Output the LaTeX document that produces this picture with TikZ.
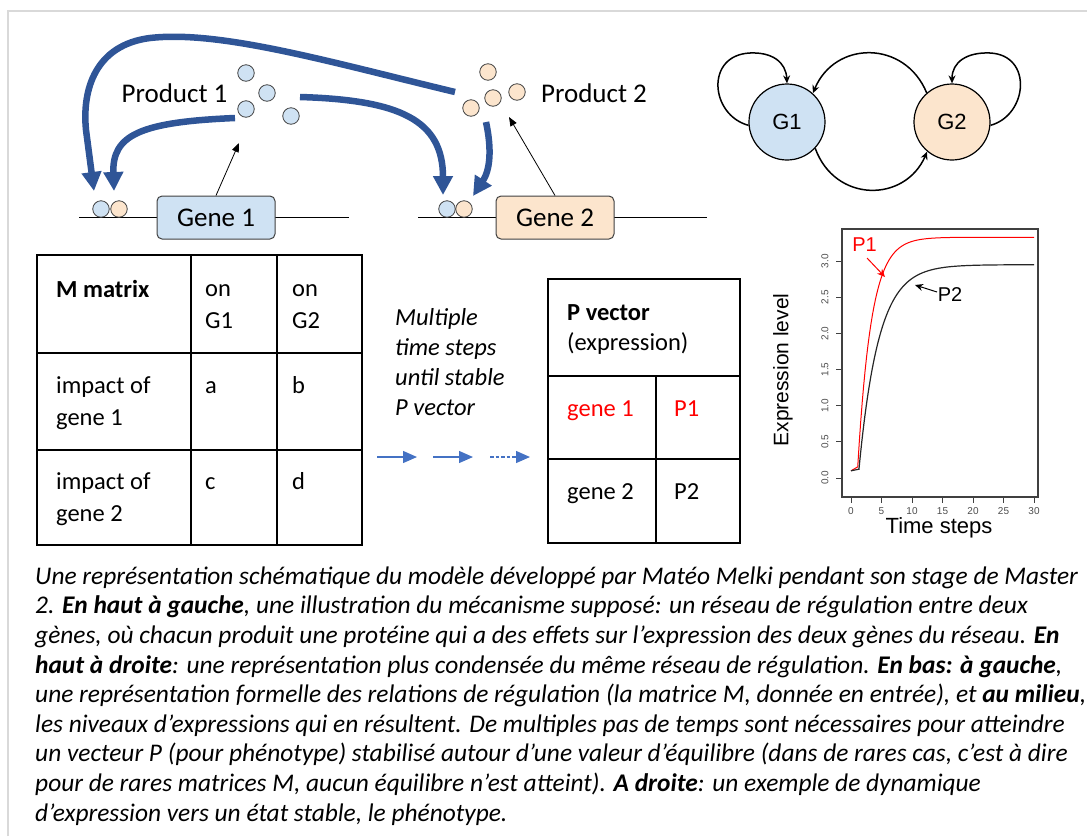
\documentclass[tikz,border=0pt]{standalone}
\usepackage{fontspec}
\setmainfont{Carlito}
\newfontfamily\arial{Liberation Sans}
\usetikzlibrary{arrows.meta}
\definecolor{geneblue}{RGB}{207,226,243}
\definecolor{geneorange}{RGB}{252,229,205}
\definecolor{regblue}{RGB}{47,85,151}
\definecolor{stepblue}{RGB}{68,114,196}
\definecolor{framegrey}{RGB}{217,217,217}
\begin{document}
\begin{tikzpicture}[x=1pt,y=-1pt,
    genebox/.style={draw=black!75,rounded corners=5pt,line width=1pt,minimum width=118pt,minimum height=43pt,
      text height=17pt,text depth=0pt,inner sep=0pt,font=\fontsize{27}{32}\selectfont},
    prot/.style={circle,draw=black!75,line width=0.8pt,minimum size=16.5pt,inner sep=0pt},
    reg/.style={regblue,line width=6.5pt,-{Triangle[length=19pt,width=19pt]}},
    gcirc/.style={circle,draw=black,line width=1.2pt,minimum size=76pt,inner sep=0pt,font=\arial\fontsize{22}{26}\selectfont},
    loop/.style={line width=1.5pt,-{Stealth[length=8pt,width=7pt]}},
    cell/.style={anchor=base west,align=left,inner sep=0pt,font=\fontsize{24.5}{32}\selectfont},
    stepline/.style={stepblue,line width=1.3pt,-{Triangle[length=14pt,width=12pt]}},
    tick/.style={font=\arial\fontsize{10}{12}\selectfont,text=black!70,inner sep=0pt}]
  \useasboundingbox (0,0) rectangle (1087,836);
  \draw[framegrey,line width=2pt] (8,836) -- (8,11) -- (1087,11);

  %% gene 1
  \draw[line width=0.8pt] (79,217) -- (349,217);
  \node[genebox,fill=geneblue] (gene1) at (216,217.5) {Gene 1};
  \node[prot,fill=geneblue] (b1a) at (101,209) {};
  \node[prot,fill=geneorange] (b1b) at (119,209) {};
  \foreach \i/\x/\y in {1/246/73,2/267/93,3/246/109,4/291/116}
    \node[prot,fill=geneblue] (pa\i) at (\x,\y) {};
  \node[anchor=base,font=\fontsize{27}{32}\selectfont] (prod1) at (174.5,102) {Product 1};
  \coordinate (p1in) at (239,143);
  \draw[line width=0.8pt,-{Triangle[length=9pt,width=7pt]}] (gene1.north) -- (p1in);

  %% gene 2
  \draw[line width=0.8pt] (418,217) -- (707,217);
  \node[genebox,fill=geneorange] (gene2) at (555,217.5) {Gene 2};
  \node[prot,fill=geneblue] (b2a) at (447,209) {};
  \node[prot,fill=geneorange] (b2b) at (464,209) {};
  \foreach \i/\x/\y in {1/488/72,2/493/98,3/517/92,4/471/108}
    \node[prot,fill=geneorange] (pb\i) at (\x,\y) {};
  \node[anchor=base,font=\fontsize{27}{32}\selectfont] (prod2) at (594,102) {Product 2};
  \coordinate (p2in) at (509,117);
  \draw[line width=0.8pt,-{Triangle[length=9pt,width=7pt]}] (gene2.north) -- (p2in);

  %% regulation arrows
  \draw[reg] (455,92) .. controls (330,62) and (220,30) .. (150,38) .. controls (95,45) and (82,90) .. (86,130) -- (94,191);
  \draw[reg] (235,118) .. controls (140,122) and (112,135) .. (114,191);
  \draw[reg] (300,97) .. controls (400,100) and (443,120) .. (443,195);
  \draw[reg] (486,122) .. controls (492,150) and (490,170) .. (473,196);

  %% condensed network
  \node[gcirc,fill=geneblue] (g1) at (787,122) {G1};
  \node[gcirc,fill=geneorange] (g2) at (952,122) {G2};
  \draw[loop] (g1.185) .. controls (710,115) and (705,55) .. (750,53) .. controls (772,52) and (786,62) .. (g1.north);
  \draw[loop] (g2.-5) .. controls (1028,115) and (1033,55) .. (990,53) .. controls (967,52) and (952,62) .. (g2.north);
  \draw[loop] (g2.131) .. controls (905,40) and (835,40) .. (g1.48);
  \draw[loop] (g1.-43) .. controls (835,203) and (905,203) .. (g2.-130);

  %% M matrix
  \draw[line width=2pt] (37,255) rectangle (362,545);
  \draw[line width=2pt] (191,255) -- (191,545) (277,255) -- (277,545) (37,353) -- (362,353) (37,450) -- (362,450);
  \node[cell,font=\bfseries\fontsize{24.5}{32}\selectfont] (mhead) at (56,297) {M matrix};
  \node[cell] (mong1) at (205,328) {on\\G1};
  \node[cell] (mong2) at (292,328) {on\\G2};
  \node[cell] (mrow1) at (56,425) {impact of\\gene 1};
  \node[cell] (ma) at (205,393) {a};
  \node[cell] (mb) at (292,393) {b};
  \node[cell] (mrow2) at (56,521) {impact of\\gene 2};
  \node[cell] (mc) at (205,489) {c};
  \node[cell] (md) at (292,489) {d};

  %% time steps
  \node[cell,font=\itshape\fontsize{24.5}{30}\selectfont] (steps) at (395,415) {Multiple\\time steps\\until stable\\P vector};
  \coordinate (s0) at (377,457); \coordinate (s1) at (417,457);
  \coordinate (s2) at (433,457); \coordinate (s3) at (473,457);
  \coordinate (s4) at (490,457); \coordinate (s5) at (530,457);
  \draw[stepline] (s0) -- (s1);
  \draw[stepline] (s2) -- (s3);
  \draw[stepline,dash pattern=on 3.5pt off 2pt] (s4) -- (s5);

  %% P vector
  \draw[line width=2pt] (548,279) rectangle (740,543);
  \draw[line width=2pt] (548,376) -- (740,376) (548,459) -- (740,459) (656,376) -- (656,543);
  \node[cell,font=\fontsize{24.5}{30}\selectfont] (phead) at (567,350) {\textbf{P vector}\\(expression)};
  \node[cell,text=red] (pg1) at (567,416) {gene 1};
  \node[cell,text=red] (pv1) at (674,416) {P1};
  \node[cell] (pg2) at (567,499) {gene 2};
  \node[cell] (pv2) at (674,499) {P2};

  %% expression plot
  \draw[black!75,line width=1.2pt] (842,229) rectangle (1038,497);
  \foreach \t in {0,5,...,30} {
    \draw[black!75,line width=0.8pt] ({851+6.1*\t},497) -- ({851+6.1*\t},503);
    \node[tick] at ({851+6.1*\t},511) {\t};
  }
  \foreach \v/\lab in {0/0.0,0.5/0.5,1/1.0,1.5/1.5,2/2.0,2.5/2.5,3/3.0} {
    \draw[black!75,line width=0.8pt] (842,{478-72.3*\v}) -- (836,{478-72.3*\v});
    \node[tick,rotate=90,font=\arial\fontsize{10}{12}\selectfont] at (825,{478-72.3*\v}) {\lab};
  }
  \draw[red,line width=1pt] (851,470.8) -- (857.1,467.2) -- plot[domain=1.1:30,samples=120]
    ({851+6.1*\x},{478-72.3*(3.33-3.18*exp(-0.45*(\x-1.1)))});
  \draw[black!85,line width=1.2pt] (851,470.8) -- (858.3,469.3) -- plot[domain=1.3:30,samples=120]
    ({851+6.1*\x},{478-72.3*(2.95-2.83*exp(-0.31*(\x-1.3)))});
  \node[text=red,font=\arial\fontsize{20}{24}\selectfont] (lp1) at (864.5,245) {P1};
  \node[font=\arial\fontsize{20}{24}\selectfont] (lp2) at (950,295) {P2};
  \coordinate (tp1) at (885,277);
  \coordinate (tp2) at (915,285);
  \draw[red,line width=1pt,-{Stealth[length=8pt,width=7pt]}] (867,258) -- (tp1);
  \draw[line width=1pt,-{Stealth[length=8pt,width=7pt]}] (937,292) -- (tp2);
  \node[rotate=90,font=\arial\fontsize{21}{25}\selectfont] (ylab) at (783,370) {Expression level};
  \node[font=\arial\fontsize{22}{26}\selectfont] (xlab) at (939,528) {Time steps};

  %% caption
  \node[cell,font=\itshape\fontsize{25.4}{29.6}\selectfont] (caption) at (35,821) {%
    Une représentation schématique du modèle développé par Matéo Melki pendant son stage de Master\\
    2. \textbf{En haut à gauche}, une illustration du mécanisme supposé: un réseau de régulation entre deux\\
    gènes, où chacun produit une protéine qui a des effets sur l’expression des deux gènes du réseau. \textbf{En}\\
    \textbf{haut à droite}: une représentation plus condensée du même réseau de régulation. \textbf{En bas: à gauche},\\
    une représentation formelle des relations de régulation (la matrice M, donnée en entrée), et \textbf{au milieu},\\
    les niveaux d’expressions qui en résultent. De multiples pas de temps sont nécessaires pour atteindre\\
    un vecteur P (pour phénotype) stabilisé autour d’une valeur d’équilibre (dans de rares cas, c’est à dire\\
    pour de rares matrices M, aucun équilibre n’est atteint). \textbf{A droite}: un exemple de dynamique\\
    d’expression vers un état stable, le phénotype.};
\end{tikzpicture}
\end{document}
